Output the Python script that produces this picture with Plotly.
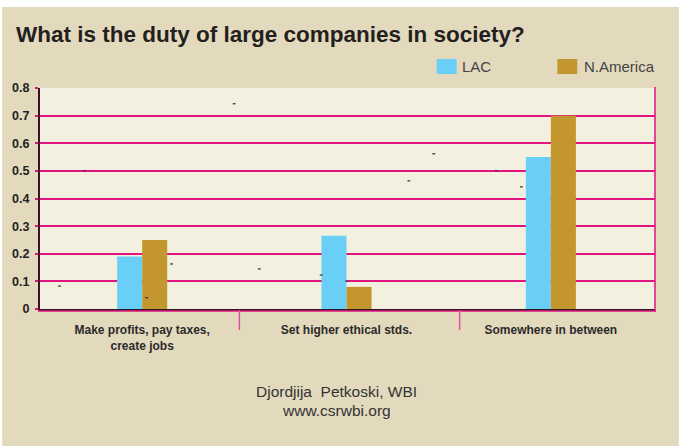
import plotly.graph_objects as go

# ---- data ----
categories = ["Make profits, pay taxes,<br>create jobs", "Set higher ethical stds.", "Somewhere in between"]
lac_values = [0.19, 0.265, 0.55]
namerica_values = [0.25, 0.08, 0.70]
series_names = ["LAC", "N.America"]
y_ticks = [0, 0.1, 0.2, 0.3, 0.4, 0.5, 0.6, 0.7, 0.8]
y_ticklabels = ["0", "0.1", "0.2", "0.3", "0.4", "0.5", "0.6", "0.7", "0.8"]
# small stray specks visible on the original chart (x in category units, y in value units)
speck_x = [-0.404, -0.282, 0.022, 0.144, 0.450, 0.573, 0.876, 1.001, 1.305, 1.427, 1.733, 1.856]
speck_y = [0.083, 0.501, 0.041, 0.163, 0.743, 0.145, 0.123, 0.101, 0.464, 0.562, 0.501, 0.442]

title = "What is the duty of large companies in society?"
footer1 = "Djordjija&nbsp; Petkoski, WBI"
footer2 = "www.csrwbi.org"

# ---- style ----
C_LAC = "#6ACFF6"
C_NA = "#C4972E"
C_BEIGE = "#E3D9BD"
C_PLOT = "#F3F0E0"
C_MAG = "#E0157F"
C_PINK = "#E0539A"

W, H = 688, 446
L, R, T, B = 38, 655, 88, 309


def px(x):
    return (x - L) / (R - L)


def py(y):
    return (B - y) / (B - T)


xs = list(range(len(categories)))

fig = go.Figure()
fig.add_trace(go.Bar(x=xs, y=lac_values, name=series_names[0], marker=dict(color=C_LAC, line=dict(width=0))))
fig.add_trace(go.Bar(x=xs, y=namerica_values, name=series_names[1], marker=dict(color=C_NA, line=dict(width=0))))
fig.add_trace(go.Scatter(x=speck_x, y=speck_y, mode="markers", showlegend=False, hoverinfo="skip",
                         marker=dict(symbol="line-ew", size=2, line=dict(width=1.3, color="#3A3A3A"))))

shapes = [
    # beige page
    dict(type="rect", xref="paper", yref="paper", x0=px(0), x1=px(679), y0=py(447), y1=py(7),
         fillcolor=C_BEIGE, line=dict(width=0), layer="below"),
    # plot background
    dict(type="rect", xref="paper", yref="paper", x0=0, x1=1, y0=0, y1=1,
         fillcolor=C_PLOT, line=dict(width=0), layer="below"),
    # magenta line under x axis
    dict(type="line", xref="paper", yref="paper", x0=px(36), x1=px(656), y0=py(311), y1=py(311),
         line=dict(color=C_MAG, width=1.5)),
    # right border
    dict(type="line", xref="paper", yref="paper", x0=px(655), x1=px(655), y0=py(311.5), y1=py(87),
         line=dict(color=C_MAG, width=1.5)),
    # separators below axis
    dict(type="line", xref="paper", yref="paper", x0=px(238), x1=px(238), y0=py(310), y1=py(330),
         line=dict(color=C_PINK, width=1.5)),
    dict(type="line", xref="paper", yref="paper", x0=px(459), x1=px(459), y0=py(310), y1=py(330),
         line=dict(color=C_PINK, width=1.5)),
    # legend swatches
    dict(type="rect", xref="paper", yref="paper", x0=px(436), x1=px(456), y0=py(74), y1=py(59),
         fillcolor=C_LAC, line=dict(width=0)),
    dict(type="rect", xref="paper", yref="paper", x0=px(557), x1=px(577), y0=py(74), y1=py(59),
         fillcolor=C_NA, line=dict(width=0)),
]

annotations = [
    dict(text="<b>" + title + "</b>", xref="paper", yref="paper", x=px(12), y=py(35),
         xanchor="left", yanchor="middle", showarrow=False,
         font=dict(family="Liberation Sans", size=22.5, color="#231F20")),
    dict(text=series_names[0], xref="paper", yref="paper", x=px(459), y=py(67),
         xanchor="left", yanchor="middle", showarrow=False,
         font=dict(family="Liberation Sans", size=15, color="#454545")),
    dict(text=series_names[1], xref="paper", yref="paper", x=px(582), y=py(67),
         xanchor="left", yanchor="middle", showarrow=False,
         font=dict(family="Liberation Sans", size=15, color="#454545")),
    dict(text=footer1, xref="paper", yref="paper", x=px(335), y=py(391),
         xanchor="center", yanchor="middle", showarrow=False,
         font=dict(family="Liberation Sans", size=15.5, color="#333333")),
    dict(text=footer2, xref="paper", yref="paper", x=px(335), y=py(410),
         xanchor="center", yanchor="middle", showarrow=False,
         font=dict(family="Liberation Sans", size=15.5, color="#333333")),
]

fig.update_layout(
    width=W, height=H,
    margin=dict(l=L, r=W - R, t=T, b=H - B, pad=0),
    paper_bgcolor="white",
    plot_bgcolor="rgba(0,0,0,0)",
    barmode="group", bargap=0.755, bargroupgap=0,
    showlegend=False,
    shapes=shapes,
    annotations=annotations,
    xaxis=dict(range=[-0.5, 2.5 + 2 / 205], tickvals=xs, ticktext=categories, showgrid=False,
               zeroline=False, showline=True, linecolor="#2A1A22", linewidth=2, ticks="",
               ticklabelstandoff=9,
               tickfont=dict(family="Liberation Sans", size=12, color="#2B2B2B", weight="bold")),
    yaxis=dict(range=[0, 0.8], tickvals=y_ticks, ticktext=y_ticklabels, showgrid=True,
               gridcolor=C_MAG, gridwidth=1.5, zeroline=False, showline=True,
               linecolor="#3A1030", linewidth=2, ticks="outside", ticklen=3, tickcolor=C_MAG,
               tickwidth=1.5, ticklabelstandoff=3,
               tickfont=dict(family="Liberation Sans", size=12.5, color="#222222", weight="bold")),
)

fig.write_html("out.html", config=dict(displayModeBar=False))
